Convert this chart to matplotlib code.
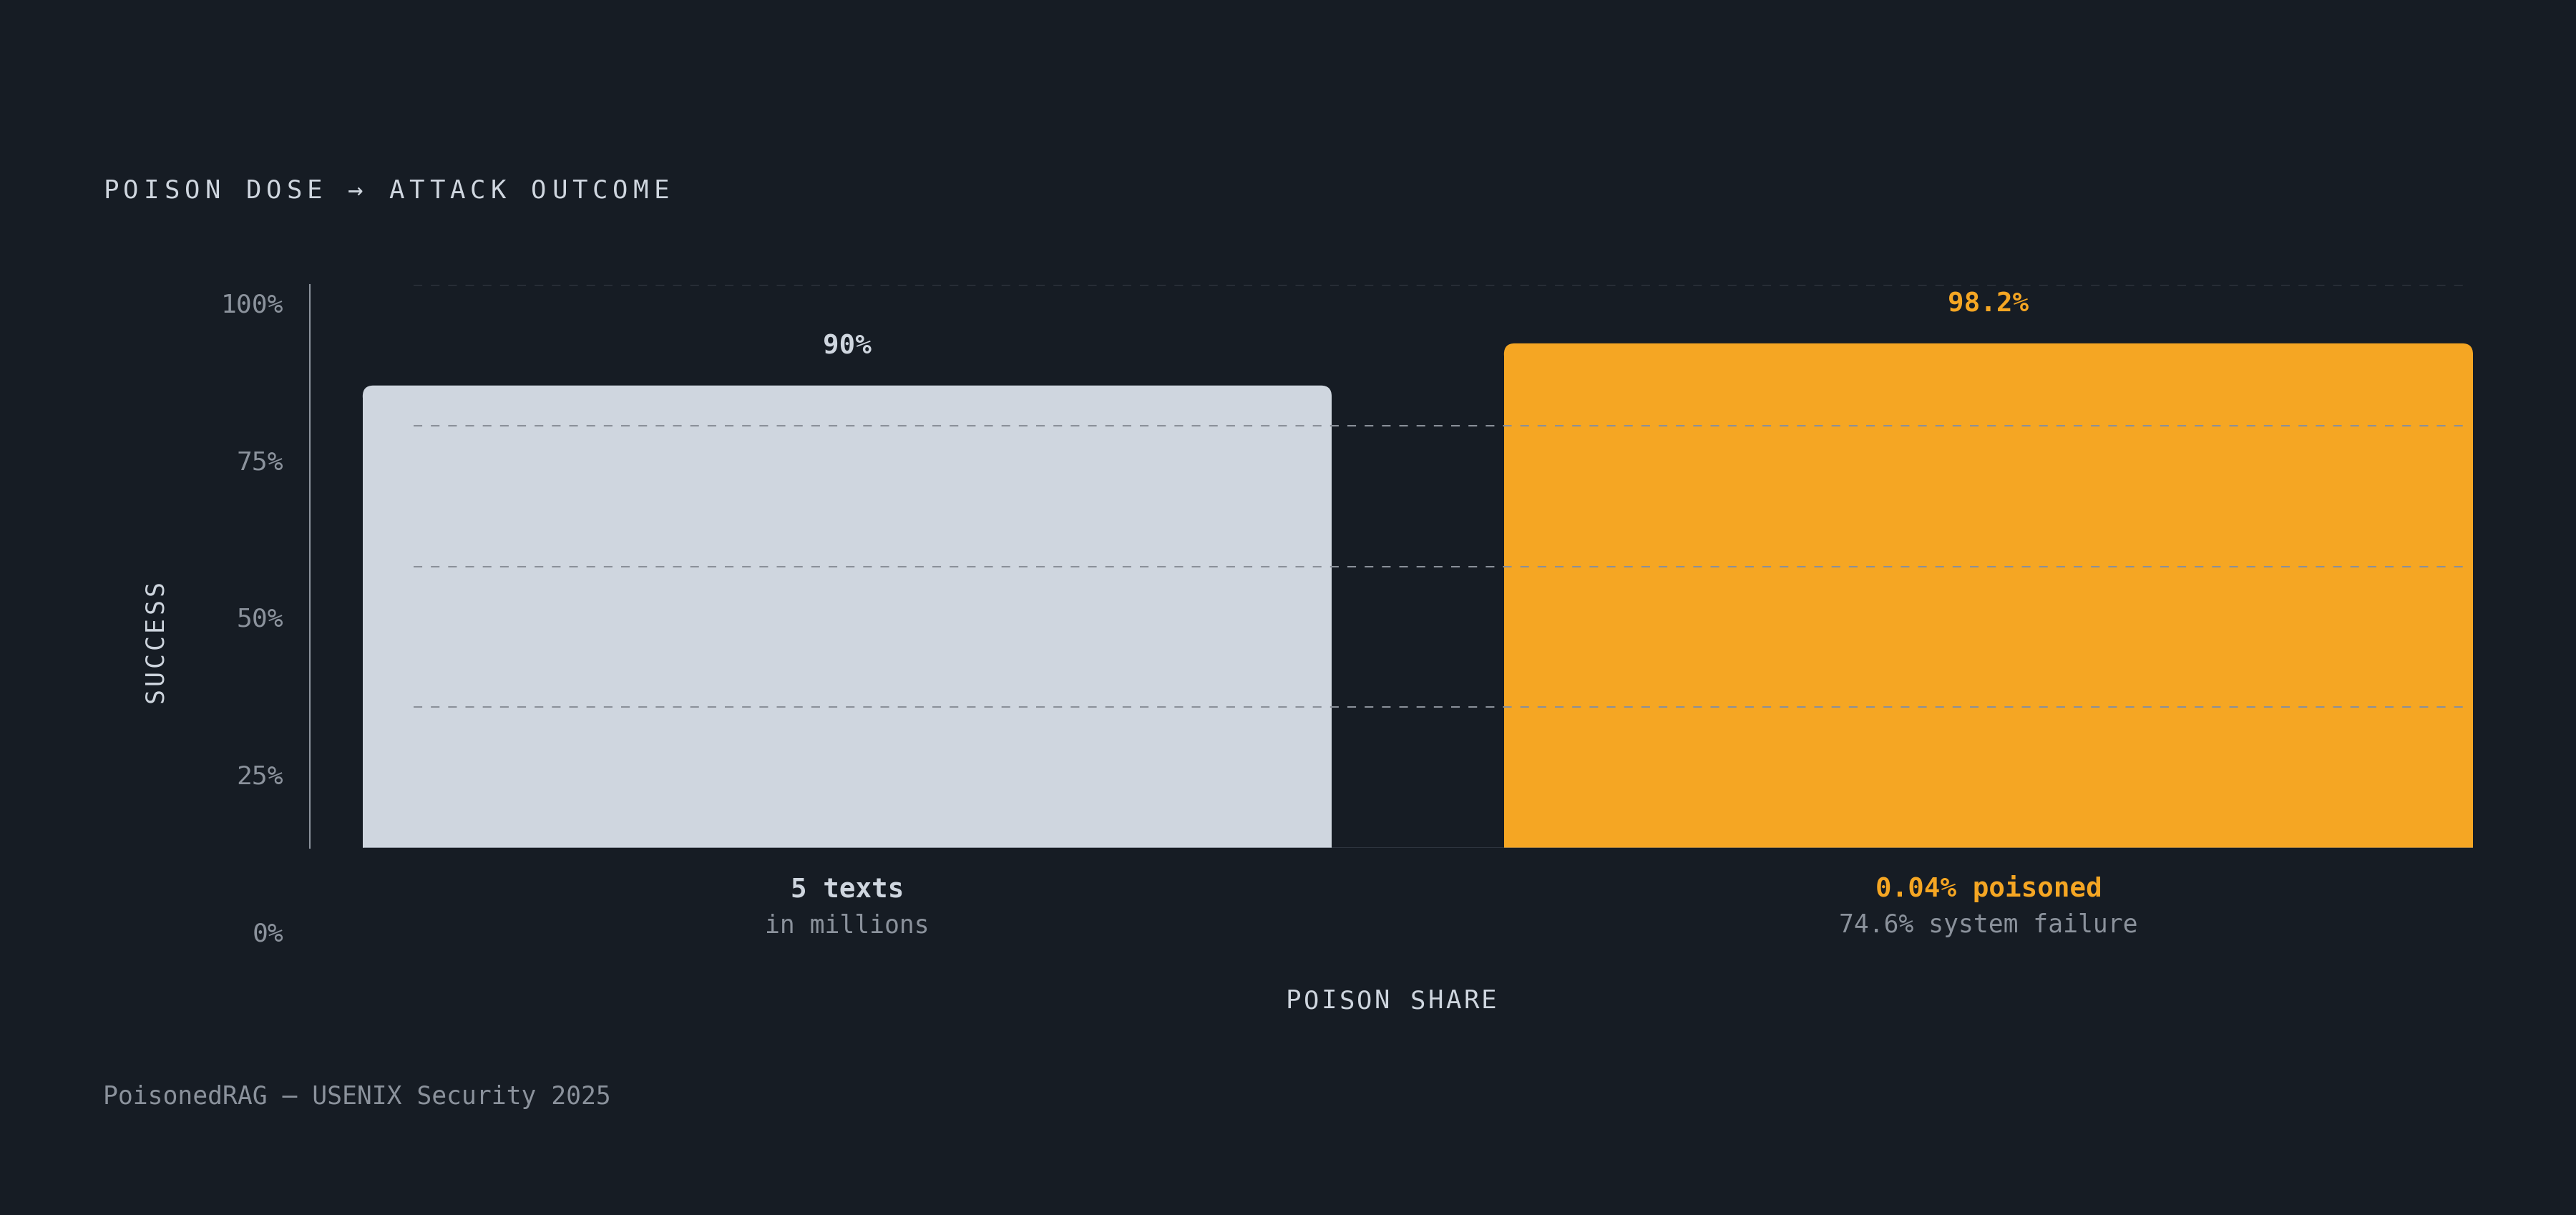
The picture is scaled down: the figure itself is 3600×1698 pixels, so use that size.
import matplotlib.pyplot as plt
from matplotlib.patches import FancyBboxPatch

# data
categories = ["5 texts", "0.04% poisoned"]
subtitles = ["in millions", "74.6% system failure"]
success = [90, 98.2]
value_labels = ["90%", "98.2%"]
y_ticks = [0, 25, 50, 75, 100]
y_tick_labels = ["0%", "25%", "50%", "75%", "100%"]

BG = '#161c24'
LIGHT = '#cfd6df'
GREY = '#8b929c'
ORANGE = '#f5a623'
bar_colors = [LIGHT, ORANGE]
label_colors = [LIGHT, ORANGE]

W, H = 3600, 1698
plt.rcParams['font.family'] = ['DejaVu Sans Mono']
plt.rcParams['lines.scale_dashes'] = False

fig = plt.figure(figsize=(12, 5.66), dpi=300)
fig.patch.set_facecolor(BG)


def fxy(px, py):
    return px / W, 1 - py / H


def spaced(x_px, y_px, s, step, size, color, vertical=False):
    # draw text char by char to get the letter spacing
    for i, ch in enumerate(s):
        if vertical:
            fig.text(*fxy(x_px, y_px - i * step), ch, rotation=90, rotation_mode='anchor',
                     ha='left', va='baseline', fontsize=size, color=color)
        else:
            fig.text(*fxy(x_px + i * step, y_px), ch, ha='left', va='baseline',
                     fontsize=size, color=color)


# main axes
left, right, top, bottom = 433, 3456, 398, 1185
ax = fig.add_axes([left / W, 1 - bottom / H, (right - left) / W, (bottom - top) / H])
ax.set_facecolor('none')
xmin, xmax = -0.4708, 1.4245
ymax = 109.6

x = list(range(len(categories)))
width = 0.849

# rounded top corners
r_px = 15
r_x = r_px * (xmax - xmin) / (right - left)
r_y = r_px * ymax / (bottom - top)
ax.bar(x, [v - r_y for v in success], width=width, color=bar_colors, zorder=2)
for i, v in enumerate(success):
    ax.add_patch(FancyBboxPatch((x[i] - width / 2, v - 2 * r_y), width, 2 * r_y,
                                boxstyle=f"round,pad=0,rounding_size={r_x}",
                                mutation_aspect=r_y / r_x, fc=bar_colors[i], ec='none', zorder=2))

# grid
ax.hlines([0.25, 0.5, 0.75], -0.380, 1.4194, transform=ax.get_xaxis_transform(),
          colors='#8a9099', linestyles=(0, (2.9, 2.9)), linewidth=0.5, zorder=3)
ax.hlines([1.0], -0.380, 1.4194, transform=ax.get_xaxis_transform(),
          colors='#363d47', linestyles=(0, (2.9, 2.9)), linewidth=0.5, zorder=3)
ax.hlines(0, x[0] - width / 2, x[-1] + width / 2, colors='#4a5260', alpha=0.6,
          linewidth=0.6, zorder=3)
ax.set_xlim(xmin, xmax)
ax.set_ylim(0, ymax)

for s in ['top', 'right', 'bottom']:
    ax.spines[s].set_visible(False)
ax.spines['left'].set_color(GREY)
ax.spines['left'].set_linewidth(0.5)
ax.set_xticks([])
ax.set_yticks([])

for i, v in enumerate(success):
    ax.annotate(value_labels[i], xy=(x[i], v), xytext=(0, 10.6), textcoords='offset points',
                ha='center', va='baseline', fontsize=9, fontweight='bold', color=label_colors[i])
    ax.annotate(categories[i], xy=(x[i], 0), xycoords=ax.get_xaxis_transform(),
                xytext=(0, -16.4), textcoords='offset points', ha='center', va='baseline',
                fontsize=9, fontweight='bold', color=label_colors[i], annotation_clip=False)
    ax.annotate(subtitles[i], xy=(x[i], 0), xycoords=ax.get_xaxis_transform(),
                xytext=(0, -28.4), textcoords='offset points', ha='center', va='baseline',
                fontsize=8.3, color=GREY, annotation_clip=False)

# y tick labels (own axis)
tax = fig.add_axes([396 / W, 1 - 1302 / H, 0.001, (1302 - 423) / H])
tax.set_ylim(0, 100)
tax.set_yticks(y_ticks, y_tick_labels)
tax.set_xticks([])
tax.tick_params(axis='y', length=0, pad=0, labelsize=8.7, labelcolor=GREY)
tax.set_facecolor('none')
for s in tax.spines.values():
    s.set_visible(False)

# titles
spaced(144, 276.7, "POISON DOSE \u2192 ATTACK OUTCOME", 28.5, 8.6, LIGHT)
spaced(1797, 1409.3, "POISON SHARE", 24.8, 8.6, LIGHT)
spaced(226.7, 981.7, "SUCCESS", 25, 8.4, LIGHT, vertical=True)
fig.text(*fxy(144, 1543.3), "PoisonedRAG \u2014 USENIX Security 2025", ha='left', va='baseline',
         fontsize=8.3, color=GREY)

fig.savefig('out.png', dpi=300, facecolor=BG)
